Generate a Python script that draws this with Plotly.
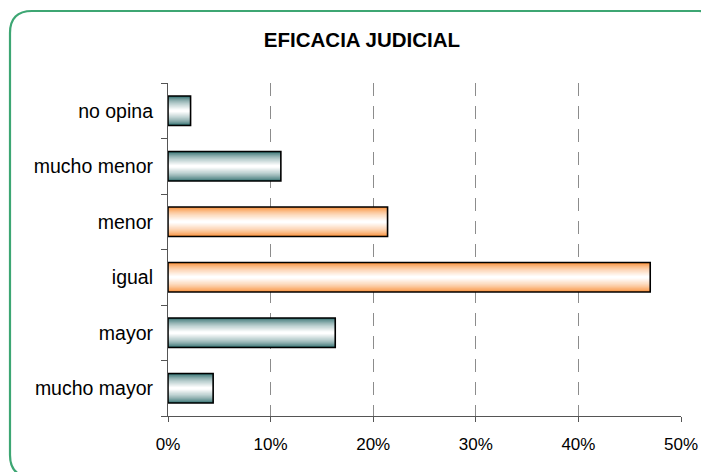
import plotly.graph_objects as go

categories = ["mucho mayor", "mayor", "igual", "menor", "mucho menor", "no opina"]
values = [0.044, 0.163, 0.470, 0.214, 0.110, 0.022]
groups = ["teal", "teal", "orange", "orange", "teal", "teal"]
x_ticks = [0, 0.1, 0.2, 0.3, 0.4, 0.5]
x_tick_labels = ["0%", "10%", "20%", "30%", "40%", "50%"]
title_text = "EFICACIA JUDICIAL"

dark = {"teal": (34, 100, 100), "orange": (248, 134, 40)}
white = (255, 255, 255)

def mix(c, t):
    return "rgb(%d,%d,%d)" % tuple(round(c[i] + (white[i] - c[i]) * t) for i in range(3))

# page body has an 8px margin, so the figure is offset by 8px in the window
OFF = 8
W, H = 709 - OFF, 472 - OFF
ml, mr, mt = 168 - OFF, 28, 83 - OFF
ph = 333
mb = H - mt - ph
pw = W - ml - mr

fig = go.Figure()
bar_w = 0.53
n_layers = 14
for k in range(n_layers):
    t = k / (n_layers - 1)
    w = bar_w * (1 - t * 0.92)
    shade = t ** 0.6
    fig.add_trace(go.Bar(
        y=categories, x=values, orientation="h", width=w,
        marker=dict(color=[mix(dark[g], shade) for g in groups], line=dict(width=0)),
        hoverinfo="skip", showlegend=False,
    ))
fig.add_trace(go.Bar(
    y=categories, x=values, orientation="h", width=bar_w,
    marker=dict(color="rgba(0,0,0,0)", line=dict(color="#000000", width=1.6)),
    showlegend=False,
))

def px_x(p):
    return (p - ml) / pw

def px_y(p):
    return (H - mb - p) / ph

x0, x1, y0, y1, r = 10 - OFF, 721 - OFF, 11 - OFF, 477 - OFF, 22
path = (
    f"M {px_x(x0 + r)} {px_y(y0)} L {px_x(x1 - r)} {px_y(y0)} "
    f"Q {px_x(x1)} {px_y(y0)} {px_x(x1)} {px_y(y0 + r)} "
    f"L {px_x(x1)} {px_y(y1 - r)} Q {px_x(x1)} {px_y(y1)} {px_x(x1 - r)} {px_y(y1)} "
    f"L {px_x(x0 + r)} {px_y(y1)} Q {px_x(x0)} {px_y(y1)} {px_x(x0)} {px_y(y1 - r)} "
    f"L {px_x(x0)} {px_y(y0 + r)} Q {px_x(x0)} {px_y(y0)} {px_x(x0 + r)} {px_y(y0)} Z"
)

fig.update_layout(
    width=W, height=H,
    margin=dict(l=ml, r=mr, t=mt, b=mb),
    paper_bgcolor="white", plot_bgcolor="white",
    barmode="overlay",
    font=dict(family="Liberation Sans, Arial, sans-serif", color="#000000"),
    title=dict(text="<b>" + title_text + "</b>", x=(362 - OFF) / W, xanchor="center",
               y=1 - (40 - OFF) / H, yanchor="middle", yref="container", xref="container",
               font=dict(size=20.5, color="#000000")),
    shapes=[dict(type="path", path=path, xref="paper", yref="paper",
                 line=dict(color="#3DA673", width=2.2), fillcolor="rgba(0,0,0,0)", layer="below")],
    xaxis=dict(range=[0, 0.5], tickvals=x_ticks, ticktext=x_tick_labels,
               showgrid=True, gridcolor="#8c8c8c", gridwidth=1, griddash="13px,10px",
               showline=True, linecolor="#555555", linewidth=1.2,
               ticks="outside", ticklen=5, tickcolor="#555555",
               tickfont=dict(size=17), ticklabelstandoff=7, zeroline=False, fixedrange=True),
    yaxis=dict(range=[-0.5, 5.5], type="category", categoryorder="array", categoryarray=categories,
               showgrid=False, showline=True, linecolor="#555555", linewidth=1.2,
               ticks="outside", ticklen=6, tickcolor="#555555", tickson="boundaries",
               tickfont=dict(size=19.5), ticklabelstandoff=10, fixedrange=True),
)

fig.write_html("out.html")
